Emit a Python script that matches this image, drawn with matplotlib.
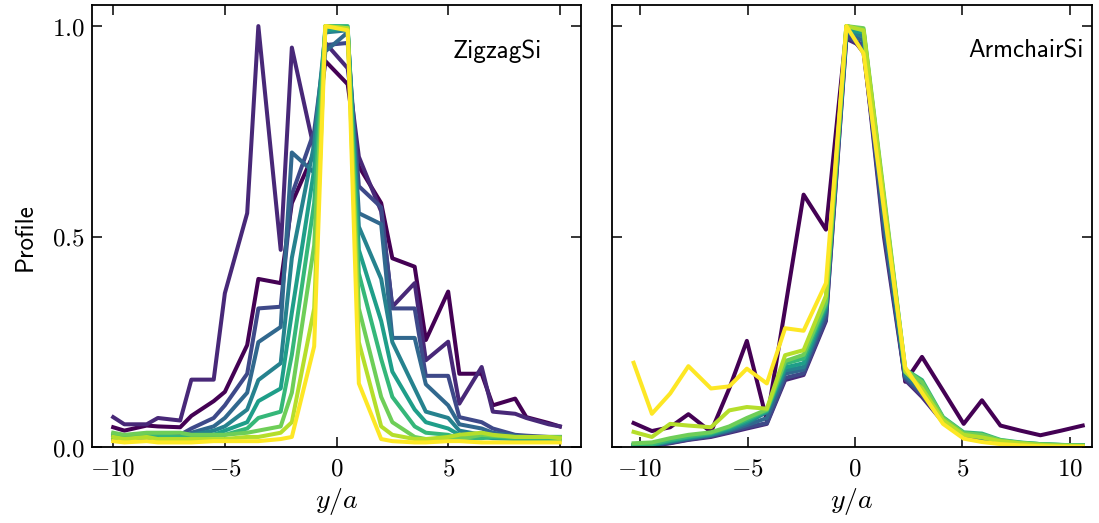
import numpy as np
import matplotlib
matplotlib.use('Agg')
import matplotlib.pyplot as plt
from matplotlib.ticker import FuncFormatter, FixedLocator

plt.rcParams['mathtext.fontset'] = 'cm'
plt.rcParams['font.family'] = ['cmss10', 'DejaVu Sans']

# zigzag profile positions (y/a) and curves
xl = [-10, -9.5, -8.5, -8, -7, -6.5, -5.5, -5, -4, -3.5, -2.5, -2, -1, -0.5,
      0.5, 1, 2, 2.5, 3.5, 4, 5, 5.5, 6.5, 7, 8, 8.5, 9.5, 10]

zz0 = [0.048, 0.040, 0.052, 0.050, 0.048, 0.075, 0.110, 0.132, 0.243, 0.400, 0.390, 0.580, 0.700, 0.917,
       0.862, 0.667, 0.580, 0.449, 0.429, 0.255, 0.370, 0.175, 0.175, 0.100, 0.116, 0.072, 0.058, 0.050]
zz1 = [0.072, 0.055, 0.055, 0.070, 0.064, 0.161, 0.161, 0.366, 0.556, 1.000, 0.469, 0.949, 0.707, 0.960,
       0.900, 0.690, 0.560, 0.334, 0.390, 0.207, 0.251, 0.104, 0.191, 0.085, 0.080, 0.070, 0.055, 0.050]
zz2 = [0.030, 0.025, 0.030, 0.030, 0.030, 0.045, 0.070, 0.100, 0.175, 0.330, 0.334, 0.600, 0.750, 0.955,
       0.960, 0.620, 0.570, 0.330, 0.330, 0.170, 0.170, 0.072, 0.060, 0.045, 0.030, 0.028, 0.025, 0.025]
zz3 = [0.025, 0.022, 0.025, 0.025, 0.025, 0.035, 0.050, 0.070, 0.130, 0.250, 0.286, 0.700, 0.652, 0.940,
       0.985, 0.556, 0.530, 0.260, 0.260, 0.150, 0.100, 0.055, 0.045, 0.035, 0.028, 0.025, 0.022, 0.022]
zz4 = [0.022, 0.020, 0.022, 0.022, 0.022, 0.030, 0.040, 0.050, 0.090, 0.160, 0.200, 0.450, 0.720, 0.985,
       0.990, 0.524, 0.400, 0.250, 0.140, 0.085, 0.070, 0.040, 0.030, 0.025, 0.022, 0.020, 0.020, 0.020]
zz5 = [0.020, 0.018, 0.020, 0.020, 0.020, 0.025, 0.030, 0.040, 0.060, 0.110, 0.140, 0.320, 0.660, 0.990,
       0.995, 0.469, 0.300, 0.180, 0.090, 0.060, 0.045, 0.030, 0.025, 0.022, 0.020, 0.020, 0.018, 0.018]
zz6 = [0.030, 0.028, 0.030, 0.030, 0.025, 0.025, 0.030, 0.030, 0.045, 0.070, 0.085, 0.220, 0.580, 1.000,
       1.000, 0.413, 0.210, 0.120, 0.050, 0.035, 0.030, 0.022, 0.022, 0.025, 0.022, 0.022, 0.020, 0.020]
zz7 = [0.035, 0.030, 0.035, 0.035, 0.035, 0.030, 0.030, 0.030, 0.035, 0.040, 0.050, 0.130, 0.480, 1.000,
       0.995, 0.330, 0.120, 0.060, 0.025, 0.020, 0.020, 0.020, 0.030, 0.028, 0.025, 0.025, 0.025, 0.025]
zz8 = [0.025, 0.020, 0.025, 0.020, 0.020, 0.020, 0.020, 0.020, 0.025, 0.025, 0.035, 0.060, 0.330, 1.000,
       0.995, 0.250, 0.050, 0.030, 0.020, 0.020, 0.025, 0.030, 0.035, 0.030, 0.025, 0.025, 0.025, 0.022]
zz9 = [0.015, 0.012, 0.015, 0.012, 0.012, 0.012, 0.015, 0.015, 0.015, 0.015, 0.020, 0.025, 0.240, 1.000,
       0.990, 0.152, 0.020, 0.015, 0.012, 0.012, 0.015, 0.015, 0.012, 0.012, 0.012, 0.012, 0.012, 0.012]

# armchair profile positions (y/a) and curves
xr = [-10.3, -9.45, -8.6, -7.75, -6.7, -5.85, -5.03, -4.1, -3.25, -2.39, -1.35, -0.4,
      0.4, 1.35, 2.34, 3.12, 4.1, 5.06, 5.91, 6.77, 7.7, 8.63, 9.6, 10.6]

ac0 = [0.058, 0.039, 0.048, 0.079, 0.037, 0.140, 0.253, 0.064, 0.330, 0.600, 0.517, 0.990,
       0.937, 0.550, 0.156, 0.215, 0.135, 0.056, 0.112, 0.052, 0.040, 0.029, 0.040, 0.052]
ac1 = [0.003, 0.004, 0.010, 0.018, 0.025, 0.035, 0.045, 0.056, 0.160, 0.172, 0.300, 0.970,
       0.950, 0.500, 0.160, 0.120, 0.060, 0.025, 0.018, 0.012, 0.009, 0.006, 0.005, 0.004]
ac2 = [0.004, 0.004, 0.011, 0.019, 0.027, 0.037, 0.048, 0.058, 0.165, 0.176, 0.305, 0.975,
       0.955, 0.515, 0.163, 0.125, 0.062, 0.027, 0.019, 0.012, 0.009, 0.006, 0.005, 0.004]
ac3 = [0.005, 0.005, 0.013, 0.021, 0.029, 0.040, 0.053, 0.070, 0.175, 0.185, 0.320, 0.985,
       0.965, 0.535, 0.168, 0.132, 0.065, 0.029, 0.020, 0.013, 0.010, 0.007, 0.005, 0.004]
ac4 = [0.005, 0.006, 0.014, 0.022, 0.030, 0.042, 0.058, 0.084, 0.183, 0.191, 0.330, 0.990,
       0.975, 0.555, 0.172, 0.140, 0.068, 0.031, 0.022, 0.014, 0.010, 0.007, 0.005, 0.005]
ac5 = [0.006, 0.007, 0.016, 0.024, 0.032, 0.045, 0.062, 0.086, 0.190, 0.200, 0.335, 0.990,
       0.985, 0.570, 0.178, 0.150, 0.070, 0.034, 0.028, 0.016, 0.011, 0.008, 0.006, 0.005]
ac6 = [0.007, 0.008, 0.018, 0.026, 0.034, 0.048, 0.066, 0.088, 0.199, 0.211, 0.340, 1.000,
       0.990, 0.590, 0.185, 0.160, 0.072, 0.036, 0.033, 0.018, 0.012, 0.008, 0.006, 0.005]
ac7 = [0.010, 0.012, 0.022, 0.030, 0.036, 0.050, 0.070, 0.090, 0.205, 0.220, 0.345, 1.000,
       0.995, 0.600, 0.185, 0.155, 0.070, 0.034, 0.030, 0.017, 0.011, 0.008, 0.006, 0.005]
ac8 = [0.037, 0.025, 0.056, 0.052, 0.048, 0.088, 0.096, 0.092, 0.219, 0.231, 0.360, 1.000,
       0.990, 0.590, 0.180, 0.140, 0.065, 0.030, 0.024, 0.015, 0.010, 0.006, 0.004, 0.003]
ac9 = [0.201, 0.080, 0.128, 0.193, 0.140, 0.145, 0.187, 0.152, 0.283, 0.277, 0.390, 1.000,
       0.935, 0.565, 0.190, 0.130, 0.056, 0.021, 0.013, 0.008, 0.005, 0.003, 0.002, 0.002]

zigzag = [zz0, zz1, zz2, zz3, zz4, zz5, zz6, zz7, zz8, zz9]
armchair = [ac0, ac1, ac2, ac3, ac4, ac5, ac6, ac7, ac8, ac9]
colors = plt.cm.viridis(np.linspace(0, 1, len(zigzag)))

fig = plt.figure(figsize=(10.99, 5.23), dpi=100)
ax1 = fig.add_axes([0.0837, 0.1444, 0.445, 0.846])
ax2 = fig.add_axes([0.5566, 0.1444, 0.437, 0.846])

for i, prof in enumerate(zigzag):
    ax1.plot(xl, prof, color=colors[i], lw=2.9)
for i, prof in enumerate(armchair):
    ax2.plot(xr, prof, color=colors[i], lw=2.9)

ax1.set_xlim(-10.95, 10.95)
ax2.set_xlim(-11.32, 11.03)

for ax in (ax1, ax2):
    ax.set_ylim(0, 1.05)
    ax.xaxis.set_major_locator(FixedLocator([-10, -5, 0, 5, 10]))
    ax.yaxis.set_major_locator(FixedLocator([0, 0.5, 1.0]))
    ax.xaxis.set_major_formatter(FuncFormatter(lambda v, p: r'$%d$' % round(v)))
    ax.yaxis.set_major_formatter(FuncFormatter(lambda v, p: r'$%.1f$' % v))
    ax.tick_params(direction='in', top=True, right=True, length=7, width=1.1, labelsize=18)
    ax.tick_params(axis='x', pad=7)
    ax.tick_params(axis='y', pad=5)
    for sp in ax.spines.values():
        sp.set_linewidth(1.3)
    ax.set_xlabel(r'$y/a$', fontsize=20, labelpad=4)

ax2.tick_params(labelleft=False)

ax1.text(0.92, 0.896, 'ZigzagSi', transform=ax1.transAxes, ha='right', va='center', fontsize=18)
ax2.text(0.982, 0.896, 'ArmchairSi', transform=ax2.transAxes, ha='right', va='center', fontsize=18)
fig.text(0.0227, 0.547, 'Profile', rotation=90, ha='center', va='center', fontsize=18)

fig.savefig('out.png', dpi=100)
